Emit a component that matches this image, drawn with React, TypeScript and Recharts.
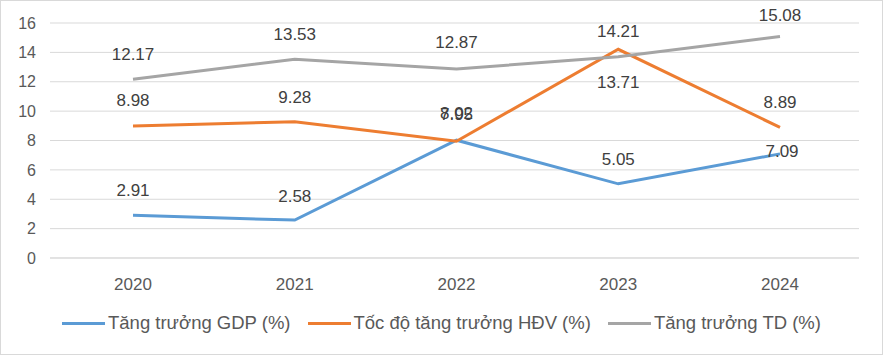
import { LineChart, Line, XAxis, YAxis, CartesianGrid, Legend, LabelList } from 'recharts'

const years = ['2020', '2021', '2022', '2023', '2024']
const gdp = [2.91, 2.58, 8.02, 5.05, 7.09]
const hdv = [8.98, 9.28, 7.95, 14.21, 8.89]
const td = [12.17, 13.53, 12.87, 13.71, 15.08]
const yTicks = [0, 2, 4, 6, 8, 10, 12, 14, 16]

// manual label nudges, as in the source sheet
const gdpLabelDy = [-25, -24, -27, -24, -2]
const gdpLabelDx = [0, 0, 0, 0, 2]
const hdvLabelDy = [-26, -24, -27, -18, -25]
const tdLabelDy = [-25, -25, -26, 26, -21]
const noDx = [0, 0, 0, 0, 0]

const series = [
  { key: 'gdp', name: 'Tăng trưởng GDP (%)', color: '#5B9BD5', dy: gdpLabelDy, dx: gdpLabelDx },
  { key: 'hdv', name: 'Tốc độ tăng trưởng HĐV (%)', color: '#ED7D31', dy: hdvLabelDy, dx: noDx },
  { key: 'td', name: 'Tăng trưởng TD (%)', color: '#A5A5A5', dy: tdLabelDy, dx: noDx },
]

const data = years.map((y, i) => ({ year: y, gdp: gdp[i], hdv: hdv[i], td: td[i] }))

const FONT = '"Liberation Sans", Arial, sans-serif'

function makeLabel(dy: number[], dx: number[]) {
  return (p: any) => {
    const i = p.index
    return (
      <text x={p.x + dx[i]} y={p.y + dy[i]} textAnchor="middle" dominantBaseline="central"
        fill="#404040" fontSize={17} fontFamily={FONT}>
        {Number(p.value).toFixed(2)}
      </text>
    )
  }
}

function LegendBox() {
  return (
    <div style={{ display: 'flex', justifyContent: 'center', gap: 17, fontFamily: FONT, fontSize: 18.5, color: '#595959' }}>
      {series.map(s => (
        <div key={s.key} style={{ display: 'flex', alignItems: 'center' }}>
          <span style={{ width: 43, height: 3, background: s.color, marginRight: 3, display: 'inline-block' }} />
          <span>{s.name}</span>
        </div>
      ))}
    </div>
  )
}

export default function App() {
  return (
    <div style={{ position: 'absolute', left: 0, top: 0, width: 883, height: 355, background: '#fff' }}>
      <LineChart width={883} height={355} data={data} margin={{ top: 23, right: 24, left: 0, bottom: 43 }}>
        <CartesianGrid vertical={false} stroke="#D9D9D9" />
        <XAxis dataKey="year" padding={{ left: 83, right: 79 }} stroke="#D9D9D9" tickLine={false}
          tick={{ fill: '#595959', fontSize: 17, fontFamily: FONT }} height={30} tickMargin={14} />
        <YAxis domain={[0, 16]} ticks={yTicks} width={50} axisLine={false} tickLine={false}
          tick={{ fill: '#595959', fontSize: 16, fontFamily: FONT }} tickMargin={8} />
        <Legend content={() => <LegendBox />} verticalAlign="bottom" height={24}
          wrapperStyle={{ left: 0, width: 883, top: 312 }} />
        {series.map(s => (
          <Line key={s.key} dataKey={s.key} name={s.name} stroke={s.color} strokeWidth={3}
            dot={false} isAnimationActive={false}>
            <LabelList dataKey={s.key} content={makeLabel(s.dy, s.dx)} />
          </Line>
        ))}
      </LineChart>
      <div style={{ position: 'absolute', left: 0, top: 0, width: 883, height: 355, border: '1px solid #D9D9D9', boxSizing: 'border-box', pointerEvents: 'none' }} />
    </div>
  )
}
